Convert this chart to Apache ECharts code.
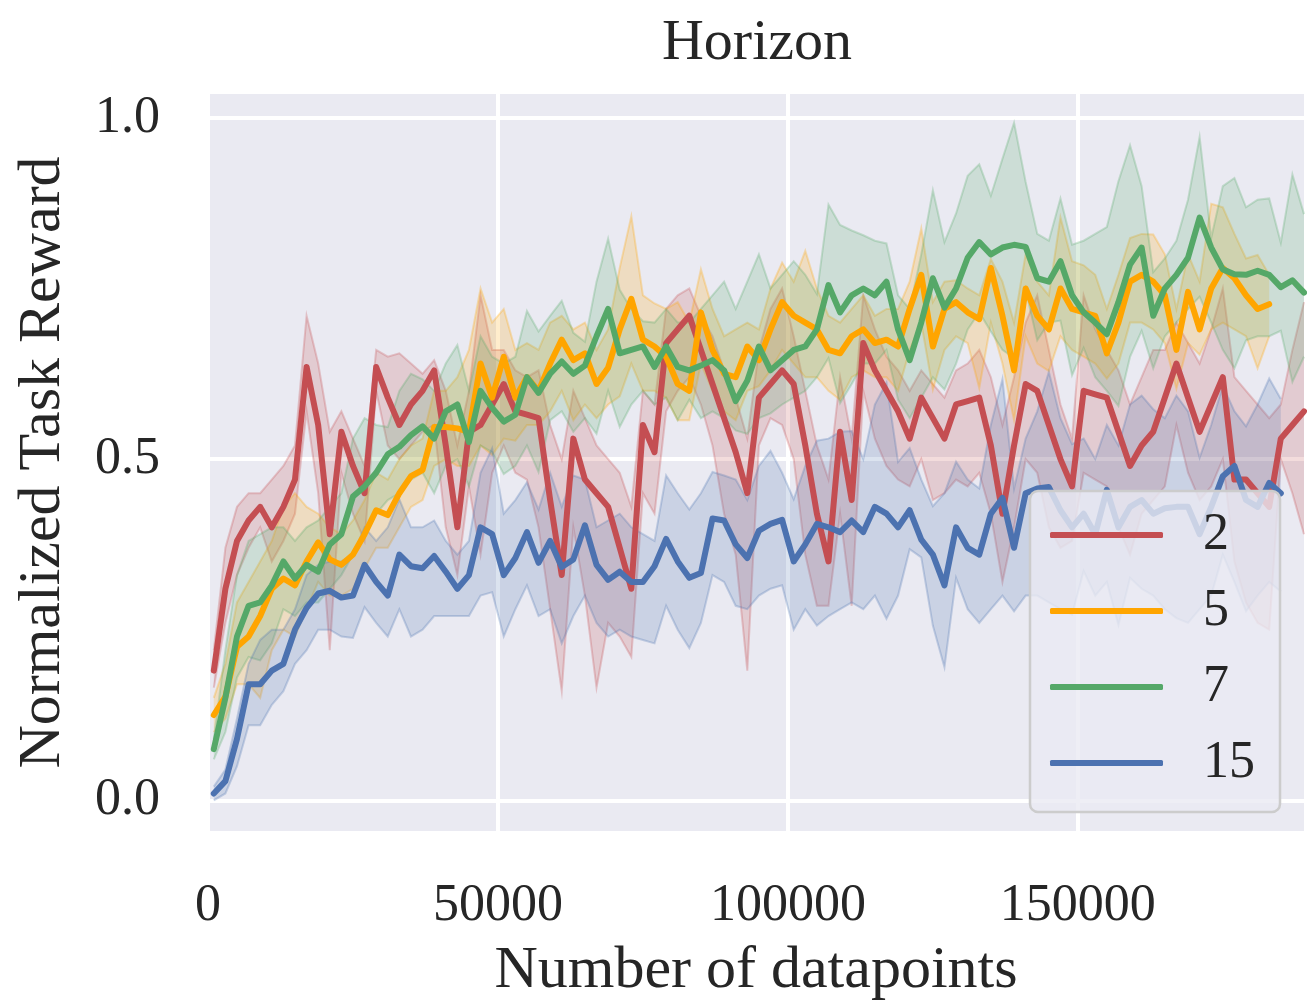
<!DOCTYPE html>
<html>
<head>
<meta charset="utf-8">
<script src="https://cdn.jsdelivr.net/npm/echarts@6/dist/echarts.min.js"></script>
<style>html,body{margin:0;padding:0;background:#fff}#main{width:1307px;height:1006px}</style>
</head>
<body>
<div id="main"></div>
<script>
var FONT = "'Liberation Serif', serif";

// x grid: one sample every 2000 datapoints
var xs = [];
for (var k = 0; k < 95; k++) xs.push(1000 + 2000 * k);

var xTicks = [0, 50000, 100000, 150000];
var yTicks = [0, 0.5, 1.0];
var names = ['2', '5', '7', '15'];
var colors = ['#C44E52', '#FFA500', '#55A868', '#4C72B0'];

// horizon 2
var red = [
  .19,.31,.38,.41,.43,.40,.43,.47,.635,.55,
  .39,.54,.49,.45,.635,.59,.55,.58,.60,.63,
  .52,.40,.54,.55,.58,.61,.57,.565,.56,.44,
  .33,.53,.47,.45,.43,.37,.31,.55,.51,.67,
  .69,.71,.66,.61,.56,.51,.45,.59,.61,.63,
  .61,.52,.42,.35,.54,.44,.67,.63,.60,.57,
  .53,.59,.56,.53,.58,.585,.59,.52,.42,.52,
  .61,.60,.55,.50,.46,.60,.595,.59,.54,.49,
  .52,.54,.59,.64,.59,.54,.58,.62,.47,.47,
  .45,.43,.53,.55,.57];
var redHi = [
  .22,.37,.43,.45,.45,.47,.49,.52,.71,.64,
  .54,.57,.53,.49,.66,.65,.655,.64,.625,.645,
  .60,.52,.60,.74,.66,.66,.63,.62,.63,.55,
  .50,.60,.56,.52,.50,.48,.43,.60,.58,.72,
  .74,.75,.71,.68,.63,.59,.53,.66,.72,.75,
  .68,.60,.52,.47,.62,.53,.74,.69,.65,.63,
  .60,.63,.61,.59,.63,.64,.66,.62,.55,.62,
  .70,.74,.66,.58,.53,.74,.69,.66,.63,.58,
  .62,.66,.66,.70,.67,.64,.69,.75,.62,.60,
  .58,.56,.58,.66,.73];
var redLo = [
  .165,.26,.33,.37,.40,.35,.38,.42,.57,.45,
  .22,.48,.42,.38,.60,.52,.50,.52,.54,.55,
  .40,.33,.46,.36,.48,.52,.48,.47,.40,.28,
  .16,.40,.30,.165,.26,.24,.21,.45,.42,.57,
  .60,.62,.58,.52,.42,.36,.19,.52,.56,.55,
  .50,.36,.285,.285,.42,.285,.60,.53,.49,.47,
  .46,.50,.44,.45,.47,.46,.48,.42,.32,.40,
  .50,.48,.40,.37,.38,.48,.47,.46,.40,.36,
  .42,.44,.46,.55,.48,.44,.46,.50,.35,.29,
  .26,.25,.50,.45,.39];

// horizon 5 (stops earlier)
var orange = [
  .125,.152,.225,.24,.27,.31,.325,.315,.35,.378,
  .353,.345,.36,.39,.425,.418,.45,.475,.484,.547,
  .547,.545,.54,.64,.59,.65,.59,.62,.60,.64,
  .675,.645,.655,.61,.634,.69,.735,.675,.665,.65,
  .61,.60,.715,.66,.625,.62,.665,.645,.69,.73,
  .71,.70,.69,.66,.655,.68,.69,.67,.675,.665,
  .72,.77,.665,.72,.73,.715,.705,.78,.71,.63,
  .75,.71,.69,.75,.72,.715,.71,.655,.70,.76,
  .77,.76,.74,.66,.745,.69,.75,.78,.765,.74,
  .72,.727];
var orangeHi = [
  .15,.20,.29,.32,.35,.38,.43,.45,.43,.42,
  .40,.39,.41,.44,.48,.47,.50,.52,.53,.60,
  .60,.62,.66,.75,.70,.72,.66,.67,.66,.70,
  .71,.69,.70,.66,.69,.78,.856,.74,.728,.72,
  .73,.70,.778,.72,.68,.69,.70,.69,.75,.788,
  .76,.805,.75,.71,.70,.72,.74,.71,.72,.72,
  .76,.838,.73,.76,.762,.75,.74,.793,.76,.70,
  .80,.76,.74,.854,.79,.784,.77,.72,.77,.824,
  .83,.829,.80,.72,.80,.76,.874,.869,.83,.794,
  .799,.77];
var orangeLo = [
  .10,.12,.17,.17,.15,.22,.25,.24,.28,.32,
  .30,.30,.31,.34,.37,.37,.40,.43,.44,.49,
  .50,.49,.49,.52,.506,.53,.527,.55,.55,.57,
  .60,.557,.58,.56,.58,.592,.64,.60,.60,.59,
  .557,.557,.64,.60,.57,.557,.60,.607,.63,.66,
  .64,.62,.62,.60,.587,.62,.63,.62,.62,.60,
  .66,.70,.602,.66,.68,.67,.604,.70,.64,.557,
  .68,.64,.629,.68,.66,.65,.64,.618,.64,.70,
  .70,.69,.67,.603,.67,.653,.69,.70,.69,.68,
  .633,.68];

// horizon 7
var green = [
  .075,.15,.24,.285,.29,.315,.35,.325,.345,.335,
  .375,.39,.445,.46,.48,.507,.518,.535,.548,.53,
  .57,.58,.525,.60,.575,.555,.565,.62,.597,.625,
  .643,.625,.637,.68,.72,.655,.66,.665,.635,.665,
  .635,.63,.637,.645,.63,.585,.615,.665,.63,.645,
  .66,.665,.69,.755,.715,.74,.75,.74,.76,.69,
  .645,.70,.765,.722,.75,.795,.818,.80,.81,.814,
  .811,.765,.76,.79,.74,.715,.70,.683,.73,.785,
  .81,.71,.75,.77,.795,.854,.81,.778,.771,.77,
  .776,.77,.752,.762,.744];
var greenHi = [
  .09,.22,.33,.38,.39,.40,.40,.38,.40,.41,
  .43,.45,.53,.56,.55,.547,.60,.625,.617,.60,
  .64,.667,.60,.68,.65,.64,.65,.717,.687,.71,
  .732,.685,.672,.76,.823,.748,.72,.702,.70,.72,
  .70,.70,.72,.74,.76,.72,.76,.80,.75,.77,
  .79,.77,.742,.873,.843,.835,.828,.82,.816,.74,
  .72,.80,.894,.818,.86,.915,.932,.886,.94,.993,
  .906,.83,.82,.882,.814,.82,.83,.84,.907,.96,
  .90,.774,.794,.82,.88,.972,.824,.90,.912,.869,
  .88,.882,.817,.917,.859];
var greenLo = [
  .06,.10,.18,.21,.205,.23,.28,.27,.29,.29,
  .31,.33,.36,.39,.42,.44,.45,.47,.48,.45,
  .49,.50,.46,.52,.51,.478,.49,.52,.481,.557,
  .57,.54,.56,.537,.60,.547,.58,.60,.58,.59,
  .557,.587,.56,.57,.56,.542,.537,.56,.567,.58,
  .59,.60,.62,.648,.582,.61,.64,.64,.66,.587,
  .56,.59,.62,.602,.64,.69,.715,.687,.66,.648,
  .748,.674,.70,.703,.623,.663,.62,.60,.578,.65,
  .688,.633,.68,.70,.72,.738,.70,.66,.633,.674,
  .68,.68,.688,.613,.65];

// horizon 15
var blue = [
  .01,.028,.09,.17,.17,.19,.20,.25,.282,.303,
  .307,.297,.30,.345,.32,.30,.36,.343,.34,.358,
  .335,.31,.33,.40,.39,.33,.355,.393,.348,.38,
  .342,.353,.403,.345,.323,.335,.32,.32,.343,.383,
  .35,.326,.333,.413,.41,.375,.355,.395,.405,.411,
  .35,.375,.405,.40,.393,.41,.393,.43,.42,.40,
  .425,.382,.36,.315,.40,.37,.36,.42,.443,.37,
  .45,.457,.459,.425,.40,.42,.39,.455,.40,.43,
  .44,.42,.428,.43,.43,.39,.43,.475,.49,.44,
  .43,.465,.45];
var blueHi = [
  .02,.045,.12,.20,.235,.25,.25,.28,.33,.345,
  .35,.35,.36,.40,.38,.40,.441,.40,.40,.41,
  .38,.36,.38,.48,.516,.42,.44,.466,.426,.48,
  .43,.476,.47,.40,.41,.42,.40,.39,.38,.476,
  .45,.426,.45,.481,.476,.47,.44,.49,.512,.48,
  .441,.49,.527,.53,.54,.541,.50,.58,.612,.496,
  .516,.47,.431,.45,.496,.47,.457,.55,.617,.457,
  .53,.57,.628,.56,.522,.53,.50,.55,.52,.58,
  .593,.573,.56,.593,.57,.502,.55,.608,.57,.548,
  .58,.618,.588];
var blueLo = [
  .00,.01,.05,.11,.11,.14,.16,.20,.22,.25,
  .25,.24,.238,.283,.26,.24,.28,.24,.25,.27,
  .27,.27,.27,.30,.305,.24,.28,.315,.27,.28,
  .23,.27,.30,.26,.24,.25,.24,.235,.23,.285,
  .25,.223,.26,.33,.32,.285,.28,.30,.31,.315,
  .25,.28,.256,.27,.28,.29,.28,.30,.266,.30,
  .368,.356,.256,.195,.326,.28,.26,.28,.30,.277,
  .30,.30,.29,.28,.272,.336,.30,.32,.257,.326,
  .31,.30,.28,.267,.26,.28,.30,.36,.32,.277,
  .30,.32,.306];

var means = [red, orange, green, blue];
var highs = [redHi, orangeHi, greenHi, blueHi];
var lows = [redLo, orangeLo, greenLo, blueLo];

var myChart = echarts.init(document.getElementById('main'));

function pairs(vals) {
  return vals.map(function (v, i) { return [xs[i], v]; });
}

// shaded band drawn as one polygon through the axis scales
function band(lo, hi, color, name) {
  return {
    name: name + ' band',
    type: 'custom',
    silent: true,
    z: 1,
    data: [[xs[0], lo[0]]],
    renderItem: function (params, api) {
      var top = [], bot = [];
      for (var i = 0; i < hi.length; i++) {
        top.push(api.coord([xs[i], hi[i]]));
        bot.push(api.coord([xs[i], lo[i]]));
      }
      var edge = echarts.color.modifyAlpha(color, 0.28);
      return {
        type: 'group',
        children: [
          { type: 'polygon', shape: { points: top.concat(bot.slice().reverse()) },
            style: { fill: echarts.color.modifyAlpha(color, 0.2) } },
          { type: 'polyline', shape: { points: top }, style: { stroke: edge, lineWidth: 2, fill: null } },
          { type: 'polyline', shape: { points: bot }, style: { stroke: edge, lineWidth: 2, fill: null } }
        ]
      };
    }
  };
}

var series = [];
for (var s = 0; s < 4; s++) {
  series.push(band(lows[s], highs[s], colors[s], names[s]));
}
for (var s = 0; s < 4; s++) {
  series.push({
    name: names[s],
    type: 'line',
    z: 2,
    data: pairs(means[s]),
    showSymbol: false,
    symbol: 'none',
    color: colors[s],
    lineStyle: { width: 6, color: colors[s], join: 'round', cap: 'round' }
  });
}

option = {
  animation: false,
  backgroundColor: '#ffffff',
  title: {
    text: 'Horizon',
    left: 757,
    top: 15,
    textAlign: 'center',
    padding: 0,
    textStyle: { fontFamily: FONT, fontSize: 58, fontWeight: 'normal', color: '#262626' }
  },
  grid: {
    left: 208, right: 3, top: 94, bottom: 172,
    show: true, backgroundColor: '#EAEAF2', borderWidth: 0
  },
  legend: {
    data: names,
    z: 20,
    orient: 'vertical',
    left: 1030,
    top: 491,
    padding: [18, 25, 23, 20],
    itemGap: 24,
    itemWidth: 113,
    itemHeight: 6,
    icon: 'roundRect',
    backgroundColor: 'rgba(234,234,242,0.8)',
    borderColor: '#cccccc',
    borderWidth: 2.5,
    borderRadius: 8,
    textStyle: { fontFamily: FONT, fontSize: 52, lineHeight: 52, color: '#262626', padding: [0, 0, 0, 35] }
  },
  xAxis: {
    type: 'value',
    min: 0,
    max: 189000,
    interval: 50000,
    axisLine: { show: false },
    axisTick: { show: false, customValues: xTicks },
    axisLabel: {
      customValues: xTicks,
      margin: 49,
      fontFamily: FONT, fontSize: 52, color: '#262626',
      formatter: function (v) { return String(v); }
    },
    splitLine: { show: true, lineStyle: { color: '#ffffff', width: 4 } },
    name: 'Number of datapoints',
    nameLocation: 'middle',
    nameGap: 110,
    nameTextStyle: { fontFamily: FONT, fontSize: 60, color: '#262626' }
  },
  yAxis: {
    type: 'value',
    min: -0.045,
    max: 1.035,
    splitNumber: 2,
    axisLine: { show: false },
    axisTick: { show: false, customValues: yTicks },
    axisLabel: {
      customValues: yTicks,
      margin: 48,
      fontFamily: FONT, fontSize: 52, color: '#262626',
      formatter: function (v) { return v.toFixed(1); }
    },
    splitLine: { show: true, lineStyle: { color: '#ffffff', width: 4 } },
    name: 'Normalized Task Reward',
    nameLocation: 'middle',
    nameGap: 135,
    nameTextStyle: { fontFamily: FONT, fontSize: 60, color: '#262626' }
  },
  series: series
};

myChart.setOption(option);
</script>
</body>
</html>
